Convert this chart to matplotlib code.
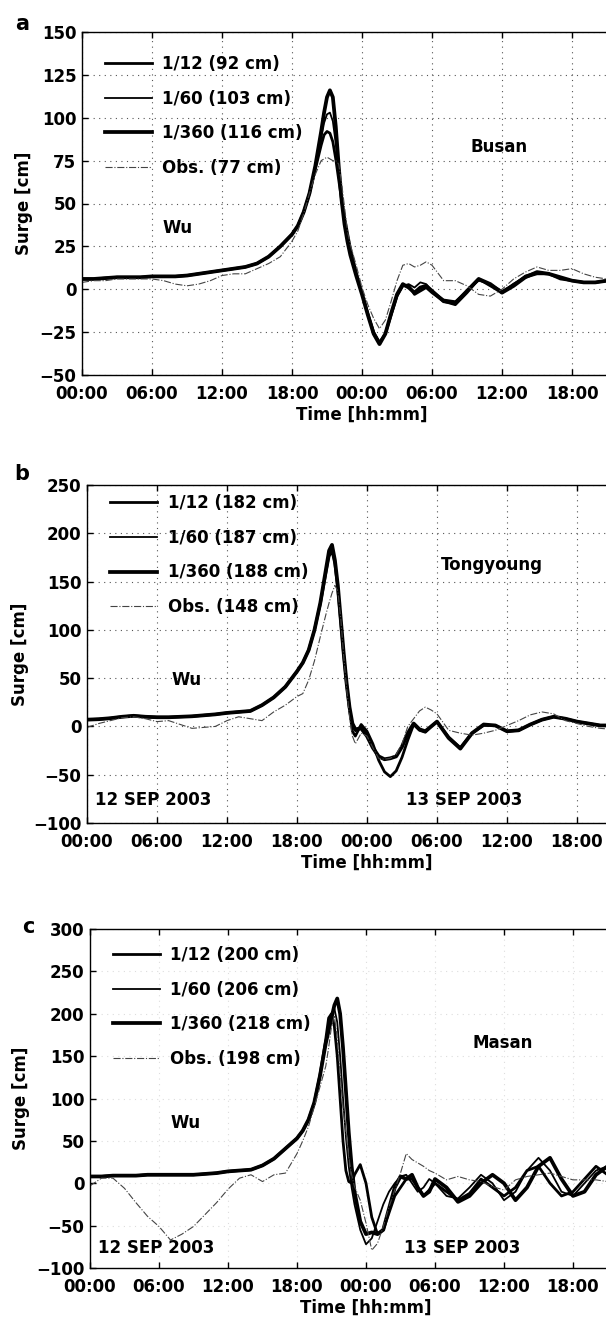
import matplotlib
matplotlib.use("Agg")
import matplotlib.pyplot as plt

plt.rcParams['font.family'] = ['DejaVu Sans']
plt.rcParams['font.size'] = 12
plt.rcParams['font.weight'] = 'bold'
plt.rcParams['axes.labelweight'] = 'bold'

# ---------------- data ----------------
T = [0, 1, 2, 3, 4, 5, 6, 7, 8, 9, 10, 11, 12, 13, 14,
     15, 16, 17, 18,
     18.5, 19, 19.5, 20, 20.5,
     20.75, 21, 21.25, 21.5, 21.75, 22, 22.25, 22.5, 22.75, 23,
     23.5, 24, 24.5, 25, 25.5, 26, 26.5, 27, 27.5, 28, 28.5, 29, 29.5, 30,
     31, 32, 33, 34, 35, 36, 37, 38, 39, 40, 41, 42, 43, 44, 45, 46]

XTICKS = [0, 6, 12, 18, 24, 30, 36, 42]
XTICK_LABELS = ['00:00', '06:00', '12:00', '18:00', '00:00', '06:00', '12:00', '18:00']

SERIES_NAMES = ['1/12', '1/60', '1/360', 'Obs.']

# Panel a : Busan
A_PEAKS = [92, 103, 116, 77]
A_12 = [6, 6, 6.5, 7, 7, 7, 7.5, 7.5, 7.5, 8, 9, 10, 11, 12, 13,
        15, 19, 25, 32,
        37, 45, 56, 70, 84,
        90, 92, 91, 86, 76, 64, 52, 42, 33, 24,
        10, -2, -14, -25, -31, -26, -15, -4, 2, 2, -3, -1, 1, -2,
        -7, -9, -2, 6, 2, -2, 3, 7, 9, 9, 6, 5, 4, 4, 5, 5]
A_60 = [6, 6, 6.5, 7, 7, 7, 7.5, 7.5, 7.5, 8, 9, 10, 11, 12, 13,
        15, 19, 25, 32,
        37, 45, 56, 71, 88,
        97, 102, 103, 98, 85, 68, 52, 40, 30, 21,
        9, -2, -14, -25, -31, -26, -15, -4, 2, 3, 1, 4, 3, -1,
        -6, -7, -1, 5, 3, -1, 3, 8, 10, 9, 7, 5, 4, 4, 5, 5]
A_360 = [6, 6, 6.5, 7, 7, 7, 7.5, 7.5, 7.5, 8, 9, 10, 11, 12, 13,
         15, 19, 25, 32,
         37, 45, 56, 72, 92,
         103, 112, 116, 112, 95, 72, 52, 38, 28, 20,
         8, -3, -15, -26, -32, -26, -14, -3, 3, 1, -2, 1, 2, -1,
         -7, -8, -1, 6, 3, -2, 2, 7, 10, 9, 7, 5, 4, 4, 5, 5]
A_OBS = [4, 5, 5, 6, 6, 6, 6, 5, 3, 2, 3, 5, 8, 9, 9,
         12, 15, 19, 28,
         34, 44, 56, 67, 75,
         76, 77, 76, 75, 75, 73, 62, 48, 34, 26,
         14, 1, -9, -17, -23, -18, -7, 5, 14, 15, 13, 14, 16, 14,
         5, 5, 2, -3, -4, 0, 6, 10, 13, 11, 11, 12, 9, 7, 6, 6]

# Panel b : Tongyoung
B_PEAKS = [182, 187, 188, 148]
B_12 = [7, 7.5, 8.5, 10, 11, 10, 9.5, 9.5, 10, 10.5, 11.5, 12.5, 14, 15, 16,
        22, 30, 41, 57,
        66, 79, 100, 127, 160,
        176, 182, 168, 142, 108, 74, 44, 18, -5, -10,
        2, -5, -18, -35, -47, -52, -46, -32, -14, 2, -4, -6, 0, 5,
        -11, -22, -7, 1, 1, -5, -4, 2, 7, 10, 8, 5, 3, 1, 1, 1]
B_60 = [7, 7.5, 8.5, 10, 11, 10, 9.5, 9.5, 10, 10.5, 11.5, 12.5, 14, 15, 16,
        22, 30, 41, 57,
        66, 79, 100, 128, 163,
        180, 187, 171, 145, 110, 75, 45, 19, 0, -5,
        1, -8, -21, -31, -34, -33, -31, -21, -7, 3, -3, -5, 0, 5,
        -12, -23, -7, 2, 1, -5, -4, 2, 7, 10, 8, 5, 3, 1, 1, 1]
B_360 = [7, 7.5, 8.5, 10, 11, 10, 9.5, 9.5, 10, 10.5, 11.5, 12.5, 14, 15, 16,
         22, 30, 41, 57,
         66, 79, 100, 128, 164,
         182, 188, 172, 146, 111, 76, 45, 20, 3, -3,
         -2, -10, -22, -31, -34, -33, -31, -21, -7, 3, -3, -5, 0, 5,
         -12, -23, -7, 2, 1, -5, -4, 2, 7, 10, 8, 5, 3, 1, 1, 1]
B_OBS = [-1, 3, 6, 9, 10, 8, 5, 6, 2, -2, -1, 0, 6, 10, 8,
         6, 15, 22, 31,
         34, 48, 68, 93, 117,
         128, 138, 146, 140, 112, 73, 40, 10, -10, -18,
         -7, -10, -22, -33, -34, -33, -29, -18, 0, 8, 16, 20, 17, 13,
         -4, -7, -9, -7, -4, 1, 6, 12, 15, 13, 6, 3, 0, -2, -3, -3]

# Panel c : Masan
C_PEAKS = [200, 206, 218, 198]
C_12 = [8, 8, 9, 9, 9, 10, 10, 10, 10, 10, 11, 12, 14, 15, 16,
        21, 29, 41, 53,
        62, 75, 95, 128, 170,
        195, 200, 185, 150, 100, 50, 15, 2, 0, 10,
        22, 0, -40, -60, -55, -35, -15, -5, 5, 5, -5, -15, -8, 0,
        -10, -20, -12, 5, -5, -15, -5, 15, 20, 0, -15, -10, 5, 20, 10, 0]
C_60 = [8, 8, 9, 9, 9, 10, 10, 10, 10, 10, 11, 12, 14, 15, 16,
        21, 29, 41, 53,
        62, 75, 95, 128, 168,
        185, 200, 206, 190, 150, 100, 55, 20, -5, -25,
        -55, -72, -65, -45, -25, -10, 0, 8, 10, 0, -10, -5, 5, 0,
        -15, -18, -5, 10, 0, -20, -10, 15, 30, 15, -10, -15, 0, 15, 20, 10]
C_360 = [8, 8, 9, 9, 9, 10, 10, 10, 10, 10, 11, 12, 14, 15, 16,
         21, 29, 41, 53,
         62, 75, 95, 127, 165,
         180, 195, 210, 218, 200, 160, 110, 60, 20, -10,
         -45, -60, -58, -60, -55, -30, -5, 8, 5, 10, -5, -15, -10, 5,
         -5, -22, -15, 0, 10, 0, -20, -5, 20, 30, 5, -15, -10, 10, 20, 15]
C_OBS = [-3, 6, 6, -6, -23, -39, -51, -67, -60, -51, -37, -23, -7, 6, 10,
         2, 10, 12, 35,
         50, 67, 90, 114, 138,
         160, 185, 198, 170, 130, 90, 60, 31, 10, -4,
         -20, -47, -79, -71, -51, -28, -8, 12, 35, 28, 24, 20, 15, 12,
         4, 8, 4, 2, -4, -8, 4, 8, 10, 12, 8, 4, 4, 4, 2, 2]

PANELS = [
    dict(letter='a', station='Busan', ylim=(-50, 150), yticks=list(range(-50, 151, 25)),
         series=[A_12, A_60, A_360, A_OBS], peaks=A_PEAKS,
         rect=[82 / 606, (1327 - 375) / 1327, 560 / 606, 343 / 1327],
         leg_top=33, station_xy=(33.3, 83), wu_xy=(6.9, 36), dates=False, grid='#555555',
         letter_xy=(22, 24), ylab_x=-0.088),
    dict(letter='b', station='Tongyoung', ylim=(-100, 250), yticks=list(range(-100, 251, 50)),
         series=[B_12, B_60, B_360, B_OBS], peaks=B_PEAKS,
         rect=[87 / 606, (1327 - 823) / 1327, 560 / 606, 338 / 1327],
         leg_top=19, station_xy=(30.3, 167), wu_xy=(7.2, 48), dates=True, grid='#555555',
         letter_xy=(22, 474), ylab_x=-0.104),
    dict(letter='c', station='Masan', ylim=(-100, 300), yticks=list(range(-100, 301, 50)),
         series=[C_12, C_60, C_360, C_OBS], peaks=C_PEAKS,
         rect=[90 / 606, (1327 - 1268) / 1327, 552 / 606, 339 / 1327],
         leg_top=27, station_xy=(33.3, 165), wu_xy=(7.0, 71), dates=True, grid='#dddddd',
         letter_xy=(28, 927), ylab_x=-0.108),
]

STYLES = [dict(color='black', lw=2.0, ls='-'),
          dict(color='black', lw=1.3, ls='-'),
          dict(color='black', lw=2.7, ls='-'),
          dict(color='#444444', lw=0.8, ls='-.')]

fig = plt.figure(figsize=(6.06, 13.27), dpi=100)

for p in PANELS:
    ax = fig.add_axes(p['rect'])
    handles = []
    for name, vals, pk, st in zip(SERIES_NAMES, p['series'], p['peaks'], STYLES):
        h, = ax.plot(T, vals, color=st['color'], lw=st['lw'], ls=st['ls'],
                     label=f'{name} ({pk} cm)')
        handles.append(h)
    ax.set_xlim(0, 48)
    ax.set_ylim(*p['ylim'])
    ax.set_xticks(XTICKS)
    ax.set_xticklabels(XTICK_LABELS)
    ax.set_yticks(p['yticks'])
    ax.tick_params(direction='in', top=True, right=True, length=4, width=1.0,
                   labelsize=12)
    ax.tick_params(axis='x', pad=7)
    ax.tick_params(axis='y', pad=4)
    for s in ax.spines.values():
        s.set_linewidth(1.0)
    ax.grid(True, ls=(0, (1, 4)), lw=0.8, color=p['grid'])
    ax.set_xlabel('Time [hh:mm]', fontsize=12, labelpad=2)
    ax.set_ylabel('Surge [cm]', fontsize=12)
    ax.yaxis.set_label_coords(p['ylab_x'], 0.5)
    hpx = p['rect'][3] * 1327
    ax.legend(handles=handles, loc='upper left', frameon=False,
              bbox_to_anchor=(23 / (p['rect'][2] * 606), 1 - (p['leg_top'] - 10) / hpx),
              borderpad=0, borderaxespad=0, handlelength=2.8, handletextpad=0.65,
              labelspacing=1.0, prop={'size': 12, 'weight': 'bold'})
    ax.text(p['station_xy'][0], p['station_xy'][1], p['station'], fontsize=12,
            ha='left', va='center')
    ax.text(p['wu_xy'][0], p['wu_xy'][1], 'Wu', fontsize=12, ha='left', va='center')
    if p['dates']:
        ax.text(0.7, -76, '12 SEP 2003', fontsize=12, ha='left', va='center')
        ax.text(27.3, -76, '13 SEP 2003', fontsize=12, ha='left', va='center')
    fig.text(p['letter_xy'][0] / 606, 1 - p['letter_xy'][1] / 1327, p['letter'],
             fontsize=15, fontweight='bold', ha='center', va='center')

fig.savefig('out.png', dpi=100)
